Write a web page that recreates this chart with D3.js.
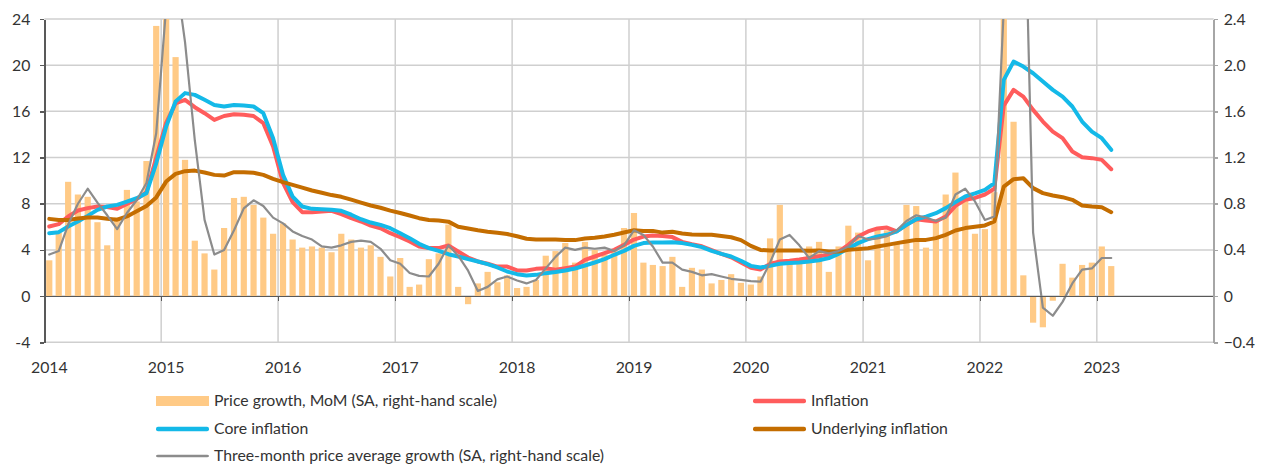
<!DOCTYPE html>
<html>
<head>
<meta charset="utf-8">
<script src="https://cdn.jsdelivr.net/npm/d3@7"></script>
<style>
  body { margin: 0; background: #fff; }
  .chart text { font-family: Lato, "Open Sans", sans-serif; font-size: 15.8px; fill: #333; }
  .axis path, .axis line { shape-rendering: crispEdges; }
</style>
</head>
<body>
<div class="chart"></div>
<script>
// monthly data, Jan 2014 .. Feb 2023 (110 months)
var firstMonth = new Date(2014, 0, 1);
var endMonth = new Date(2023, 2, 1);

// price growth MoM, SA (right-hand scale)
var mom = [
  0.31, 0.55, 0.99, 0.88, 0.86, 0.64, 0.44, 0.68, 0.92, 0.82, 1.17, 2.34,
  2.80, 2.07, 1.18, 0.48, 0.37, 0.23, 0.59, 0.85, 0.86, 0.79, 0.68, 0.54,
  0.63, 0.49, 0.42, 0.43, 0.42, 0.38, 0.54, 0.49, 0.42, 0.44, 0.34, 0.17,
  0.33, 0.08, 0.10, 0.32, 0.37, 0.62, 0.08, -0.07, 0.11, 0.21, 0.12, 0.18,
  0.07, 0.08, 0.14, 0.35, 0.39, 0.46, 0.29, 0.47, 0.40, 0.36, 0.39, 0.59,
  0.72, 0.29, 0.27, 0.26, 0.34, 0.08, 0.245, 0.23, 0.11, 0.14, 0.19, 0.115,
  0.10, 0.17, 0.50, 0.79, 0.30, 0.31, 0.43, 0.47, 0.21, 0.43, 0.61, 0.55,
  0.31, 0.59, 0.57, 0.46, 0.79, 0.78, 0.42, 0.66, 0.88, 1.07, 0.83, 0.54,
  0.58, 0.90, 3.00, 1.51, 0.18, -0.23, -0.27, -0.04, 0.28, 0.16, 0.27, 0.29,
  0.43, 0.26
];

var inflation = [
  6.03, 6.23, 6.89, 7.41, 7.62, 7.76, 7.71, 7.56, 7.99, 8.40, 9.0, 12.0,
  15.0, 16.7, 17.0, 16.36, 15.84, 15.26, 15.6, 15.75, 15.7, 15.6, 14.98, 12.95,
  9.8, 8.14, 7.27, 7.27, 7.33, 7.39, 7.1, 6.75, 6.46, 6.11, 5.88, 5.45,
  5.11, 4.73, 4.29, 4.16, 4.16, 4.38, 3.86, 3.34, 3.0, 2.80, 2.56, 2.56,
  2.22, 2.22, 2.36, 2.42, 2.28, 2.42, 2.56, 3.14, 3.43, 3.72, 4.01, 4.44,
  4.9, 5.16, 5.25, 5.2, 5.11, 4.7, 4.5, 4.32, 3.98, 3.65, 3.36, 2.92,
  2.46, 2.3, 2.78, 3.0, 3.06, 3.17, 3.3, 3.45, 3.58, 3.86, 4.44, 5.16,
  5.60, 5.86, 5.94, 5.60, 6.17, 6.66, 6.55, 6.46, 6.89, 7.82, 8.34, 8.5,
  8.8, 9.3, 16.5, 17.86, 17.28, 16.13, 15.12, 14.25, 13.68, 12.52, 12.03, 11.95,
  11.80, 10.99
];

var core = [
  5.45, 5.54, 6.03, 6.46, 6.95, 7.47, 7.76, 7.90, 8.19, 8.48, 8.92, 11.5,
  14.68, 16.85, 17.58, 17.43, 17.0, 16.56, 16.42, 16.56, 16.5, 16.42, 15.84, 13.68,
  10.5, 8.62, 7.76, 7.56, 7.53, 7.47, 7.39, 7.05, 6.66, 6.37, 6.17, 5.88,
  5.45, 5.02, 4.53, 4.16, 3.92, 3.63, 3.43, 3.2, 3.0, 2.77, 2.48, 2.13,
  1.90, 1.78, 1.84, 1.99, 2.08, 2.22, 2.39, 2.65, 2.91, 3.2, 3.58, 3.92,
  4.35, 4.59, 4.64, 4.64, 4.67, 4.59, 4.44, 4.24, 3.92, 3.66, 3.43, 3.06,
  2.62, 2.48, 2.62, 2.8, 2.86, 2.91, 3.0, 3.1, 3.29, 3.66, 4.15, 4.59,
  4.93, 5.16, 5.31, 5.60, 6.17, 6.66, 6.89, 7.18, 7.62, 8.14, 8.63, 8.9,
  9.20, 9.78, 18.73, 20.31, 19.88, 19.30, 18.58, 17.86, 17.28, 16.42, 15.12, 14.25,
  13.68, 12.67
];

var underlying = [
  6.69, 6.6, 6.6, 6.72, 6.8, 6.8, 6.7, 6.62, 6.9, 7.35, 7.8, 8.55,
  9.92, 10.59, 10.82, 10.87, 10.7, 10.5, 10.44, 10.73, 10.73, 10.68, 10.5, 10.16,
  9.87, 9.64, 9.4, 9.15, 8.95, 8.75, 8.6, 8.35, 8.1, 7.85, 7.65, 7.4,
  7.2, 6.98, 6.75, 6.6, 6.55, 6.45, 6.0, 5.85, 5.7, 5.58, 5.48, 5.38,
  5.18, 4.97, 4.90, 4.90, 4.90, 4.87, 4.85, 4.99, 5.05, 5.16, 5.31, 5.51,
  5.7, 5.64, 5.65, 5.5, 5.58, 5.42, 5.34, 5.31, 5.31, 5.2, 5.1, 4.85,
  4.35, 4.0, 3.95, 3.95, 3.95, 3.95, 3.92, 3.95, 3.86, 3.86, 4.01, 4.07,
  4.15, 4.30, 4.44, 4.59, 4.73, 4.87, 4.87, 5.02, 5.31, 5.68, 5.89, 6.0,
  6.12, 6.46, 9.49, 10.13, 10.21, 9.35, 8.92, 8.71, 8.57, 8.34, 7.85, 7.76,
  7.70, 7.27
];

// three-month price average growth, SA (right-hand scale)
var threeMonth = [
  0.36, 0.39, 0.62, 0.80, 0.93, 0.81, 0.70, 0.58, 0.72, 0.83, 0.98, 1.41,
  2.50, 2.80, 2.20, 1.35, 0.66, 0.36, 0.40, 0.57, 0.76, 0.83, 0.78, 0.68,
  0.63, 0.56, 0.52, 0.49, 0.43, 0.42, 0.44, 0.47, 0.48, 0.47, 0.41, 0.31,
  0.28, 0.20, 0.175, 0.17, 0.28, 0.44, 0.35, 0.22, 0.045, 0.08, 0.145, 0.17,
  0.135, 0.11, 0.14, 0.24, 0.34, 0.42, 0.40, 0.42, 0.41, 0.42, 0.39, 0.44,
  0.57, 0.53, 0.43, 0.29, 0.29, 0.23, 0.21, 0.18, 0.19, 0.17, 0.15, 0.14,
  0.13, 0.125, 0.29, 0.49, 0.53, 0.44, 0.33, 0.39, 0.37, 0.39, 0.43, 0.52,
  0.49, 0.50, 0.52, 0.57, 0.65, 0.70, 0.68, 0.65, 0.68, 0.88, 0.93, 0.82,
  0.66, 0.69, 2.50, 4.50, 4.00, 0.55, -0.10, -0.17, -0.05, 0.11, 0.23, 0.24,
  0.33, 0.33
];

var leftTicks = [-4, 0, 4, 8, 12, 16, 20, 24];
var rightTicks = [-0.4, 0, 0.4, 0.8, 1.2, 1.6, 2.0, 2.4];
var yearLabels = ["2014", "2015", "2016", "2017", "2018", "2019", "2020", "2021", "2022", "2023"];

var legendNames = [
  "Price growth, MoM (SA, right-hand scale)",
  "Inflation",
  "Core inflation",
  "Underlying inflation",
  "Three-month price average growth (SA, right-hand scale)"
];

var width = 1263;
var height = 466;
var plot = { left: 44.3, right: 1213.7, top: 19, bottom: 342.3 };

var colors = {
  bar: "#ffca86",
  inflation: "#ff5c5c",
  core: "#14b9e8",
  underlying: "#c46d00",
  three: "#8c8c8c"
};

var svg = d3.select(".chart")
            .append("svg")
            .attr("width", width)
            .attr("height", height);

var months = d3.timeMonth.range(firstMonth, endMonth);

var scaleX = d3.scaleTime()
               .domain([new Date(2014, 0, 1), new Date(2024, 0, 1)])
               .range([plot.left, plot.right]);

var scaleY = d3.scaleLinear()
               .domain([-4, 24])
               .range([plot.bottom, plot.top]);

var scaleY2 = d3.scaleLinear()
                .domain([-0.4, 2.4])
                .range([plot.bottom, plot.top]);

// centre of month i
function monthX(i) {
  var d = months[i];
  return (scaleX(d) + scaleX(d3.timeMonth.offset(d, 1))) / 2;
}

svg.append("defs").append("clipPath")
   .attr("id", "plotClip")
   .append("rect")
   .attr("x", plot.left)
   .attr("y", plot.top)
   .attr("width", plot.right - plot.left)
   .attr("height", plot.bottom - plot.top);

// gridlines
var years = d3.timeYear.range(new Date(2014, 0, 1), new Date(2025, 0, 1));

svg.append("g")
   .selectAll("line")
   .data(leftTicks)
   .enter()
   .append("line")
   .attr("x1", plot.left)
   .attr("x2", plot.right)
   .attr("y1", function(d) { return scaleY(d); })
   .attr("y2", function(d) { return scaleY(d); })
   .style("stroke", "#cfcfcf")
   .style("stroke-width", 1.5);

svg.append("g")
   .selectAll("line")
   .data(years.slice(1, 10))
   .enter()
   .append("line")
   .attr("x1", function(d) { return scaleX(d); })
   .attr("x2", function(d) { return scaleX(d); })
   .attr("y1", plot.top)
   .attr("y2", plot.bottom)
   .style("stroke", "#cfcfcf")
   .style("stroke-width", 1.5);

var chartContainer = svg.append("g")
                        .attr("clip-path", "url(#plotClip)");

// bars (right-hand scale)
var barWidth = 6.2;

chartContainer.append("g")
   .selectAll("rect")
   .data(mom)
   .enter()
   .append("rect")
   .attr("x", function(d, i) { return monthX(i) - barWidth / 2; })
   .attr("y", function(d) { return scaleY2(Math.max(0, d)); })
   .attr("width", barWidth)
   .attr("height", function(d) { return Math.abs(scaleY2(d) - scaleY2(0)); })
   .style("fill", colors.bar);

// x axis along zero
var axisZero = d3.axisBottom(scaleX)
                 .tickValues(years)
                 .tickSize(5)
                 .tickSizeOuter(0)
                 .tickFormat("");

svg.append("g")
   .attr("class", "axis")
   .attr("transform", "translate(0," + scaleY(0) + ")")
   .call(axisZero)
   .call(function(g) {
     g.selectAll("path, line").style("stroke", "#595959").style("stroke-width", 1.5);
   });

// lines
function drawLine(values, scale, color, lineWidth) {
  var line = d3.line()
               .x(function(d, i) { return monthX(i); })
               .y(function(d) { return scale(d); });

  chartContainer.append("path")
     .datum(values)
     .attr("d", line)
     .style("fill", "none")
     .style("stroke", color)
     .style("stroke-width", lineWidth)
     .style("stroke-linejoin", "round")
     .style("stroke-linecap", "round");
}

drawLine(inflation, scaleY, colors.inflation, 4);
drawLine(core, scaleY, colors.core, 4);
drawLine(underlying, scaleY, colors.underlying, 4);
drawLine(threeMonth, scaleY2, colors.three, 2.2);

// left axis
var axisLeft = d3.axisLeft(scaleY)
                 .tickValues(leftTicks)
                 .tickSize(4)
                 .tickSizeOuter(0)
                 .tickPadding(10)
                 .tickFormat(function(d) { return d; });

svg.append("g")
   .attr("class", "axis")
   .attr("transform", "translate(" + plot.left + ",0)")
   .call(axisLeft)
   .call(function(g) {
     g.selectAll("path, line").style("stroke", "#595959").style("stroke-width", 1.5);
     g.selectAll("text").attr("font-size", null).attr("font-family", null);
   });

// right axis
var axisRight = d3.axisRight(scaleY2)
                  .tickValues(rightTicks)
                  .tickSize(4)
                  .tickSizeOuter(0)
                  .tickPadding(6)
                  .tickFormat(function(d) { return d === 0 ? "0" : d3.format(".1f")(d); });

svg.append("g")
   .attr("class", "axis")
   .attr("transform", "translate(" + plot.right + ",0)")
   .call(axisRight)
   .call(function(g) {
     g.selectAll("path, line").style("stroke", "#a6a6a6").style("stroke-width", 1.5);
     g.selectAll("text").attr("font-size", null).attr("font-family", null);
   });

// year labels
svg.append("g")
   .selectAll("text")
   .data(yearLabels)
   .enter()
   .append("text")
   .attr("x", function(d) { return scaleX(new Date(+d, 0, 1)) + 5; })
   .attr("y", 373)
   .style("text-anchor", "middle")
   .text(function(d) { return d; });

// legend
var legendPos = [
  { x: 156, y: 401, type: "bar", color: colors.bar },
  { x: 753, y: 401, type: "line", color: colors.inflation },
  { x: 156, y: 429, type: "line", color: colors.core },
  { x: 753, y: 429, type: "line", color: colors.underlying },
  { x: 156, y: 456, type: "thin", color: colors.three }
];

var legend = svg.append("g")
                .selectAll("g")
                .data(legendNames)
                .enter()
                .append("g")
                .attr("transform", function(d, i) {
                  return "translate(" + legendPos[i].x + "," + legendPos[i].y + ")"; });

legend.append("rect")
      .attr("x", 0)
      .attr("width", 53)
      .attr("y", function(d, i) {
        var t = legendPos[i].type;
        return t === "bar" ? -5 : (t === "line" ? -2.2 : -1.3); })
      .attr("height", function(d, i) {
        var t = legendPos[i].type;
        return t === "bar" ? 10 : (t === "line" ? 4.4 : 2.6); })
      .attr("rx", function(d, i) { return legendPos[i].type === "bar" ? 0 : 2; })
      .style("fill", function(d, i) { return legendPos[i].color; });

legend.append("text")
      .attr("x", 58)
      .attr("y", 5)
      .text(function(d) { return d; });
</script>
</body>
</html>
